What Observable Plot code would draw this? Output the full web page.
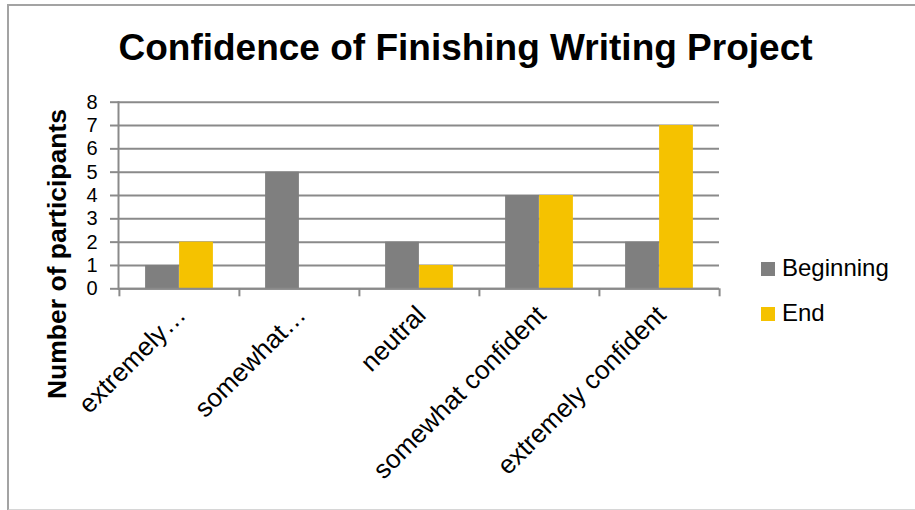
<!DOCTYPE html>
<html><head><meta charset="utf-8">
<script src="https://cdn.jsdelivr.net/npm/d3@7"></script>
<script src="https://cdn.jsdelivr.net/npm/@observablehq/plot@0.6"></script>
<style>
body{margin:0;background:#fff;font-family:"Liberation Sans",Arial,sans-serif;}
#wrap{position:relative;width:915px;height:510px;overflow:hidden;background:#fff;}
#frame{position:absolute;left:7px;top:4px;width:1000px;height:503px;border-left:2px solid #a3a3a3;border-top:2px solid #a3a3a3;border-bottom:2px solid #d6d6d6;}
#chart{position:absolute;left:0;top:0;}
#title{position:absolute;left:0;width:931px;top:29px;line-height:37px;text-align:center;font-weight:bold;font-size:37px;color:#000;white-space:nowrap;}
#ylabel{position:absolute;left:57px;top:254px;transform:translate(-50%,-50%) rotate(-90deg);white-space:nowrap;font-weight:bold;font-size:26.5px;color:#000;}
.leg{position:absolute;left:761px;font-size:24px;line-height:24px;color:#000;white-space:nowrap;}
.leg span.sw{display:inline-block;width:14px;height:14px;margin-right:7px;vertical-align:0px;}
</style></head>
<body>
<div id="wrap">
  <div id="frame"></div>
  <div id="chart"></div>
  <div id="title"></div>
  <div id="ylabel"></div>
  <div id="legend"></div>
</div>
<script>
const titleText = "Confidence of Finishing Writing Project";
const yLabel = "Number of participants";
const categories = ["extremely…", "somewhat…", "neutral", "somewhat confident", "extremely confident"];
const series = ["Beginning", "End"];
const beginning = [1, 5, 2, 4, 2];
const end = [2, 0, 1, 4, 7];
const yTicks = [0, 1, 2, 3, 4, 5, 6, 7, 8];
const colors = ["#7f7f7f", "#f5c200"];

const data = categories.flatMap((c, i) => [
  {category: c, series: series[0], value: beginning[i]},
  {category: c, series: series[1], value: end[i]}
]);

const W = 915, H = 510;
const mL = 118, mR = 196, mT = 101.7, mB = 221.7;
const step = (W - mL - mR) / categories.length;
const half = step / 2;
const barW = 34;
const outer = half - barW;
const gridColor = "#8a8a8a";

const plot = Plot.plot({
  width: W, height: H,
  marginLeft: mL, marginRight: mR, marginTop: mT, marginBottom: mB,
  style: {fontFamily: "'Liberation Sans', Arial, sans-serif", color: "#000", background: "transparent", overflow: "visible"},
  x: {domain: categories, padding: 0, label: null},
  y: {domain: [0, 8], label: null},
  color: {domain: series, range: colors},
  marks: [
    Plot.gridY(yTicks, {stroke: gridColor, strokeOpacity: 1, strokeWidth: 2}),
    Plot.barY(data.filter(d => d.series === series[0]), {x: "category", y: "value", fill: "series", insetLeft: outer, insetRight: half}),
    Plot.barY(data.filter(d => d.series === series[1]), {x: "category", y: "value", fill: "series", insetLeft: half, insetRight: outer}),
    Plot.frame({anchor: "left", stroke: gridColor, strokeWidth: 2}),
    Plot.ruleY([0], {stroke: gridColor, strokeWidth: 2}),
    Plot.axisY({ticks: yTicks, tickSize: 8, tickPadding: 13, fontSize: 20, label: null, stroke: gridColor, strokeWidth: 2, fill: "#000"}),
    Plot.axisX({tickSize: 8, dx: -half, tickFormat: () => "", label: null, stroke: gridColor, strokeWidth: 2}),
    Plot.axisX({ticks: [categories[categories.length - 1]], tickSize: 8, dx: half, tickFormat: () => "", label: null, stroke: gridColor, strokeWidth: 2}),
    Plot.axisX({tickSize: 0, tickRotate: -45, tickPadding: 22, fontSize: 26, dx: 2, label: null, fill: "#000"})
  ]
});
document.getElementById("chart").appendChild(plot);
document.getElementById("title").textContent = titleText;
document.getElementById("ylabel").textContent = yLabel;

const legend = document.getElementById("legend");
const legTops = [256, 301];
series.forEach((s, i) => {
  const d = document.createElement("div");
  d.className = "leg";
  d.style.top = legTops[i] + "px";
  const sw = document.createElement("span");
  sw.className = "sw";
  sw.style.background = colors[i];
  d.appendChild(sw);
  d.appendChild(document.createTextNode(s));
  legend.appendChild(d);
});
</script>
</body></html>
